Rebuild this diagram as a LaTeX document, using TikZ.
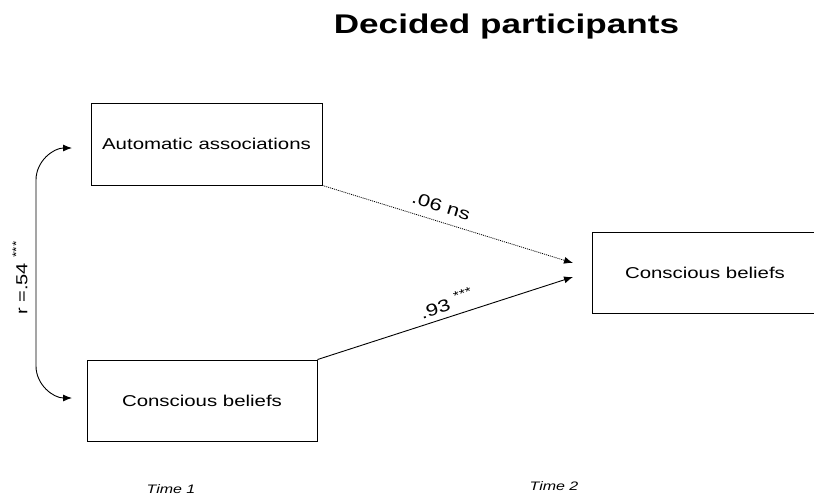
\documentclass[tikz,border=0pt]{standalone}
\usepackage{fontspec}
\setmainfont{Liberation Sans}
\usepackage{graphicx}
\usetikzlibrary{arrows.meta}
% horizontally widened text, as the whole figure is set
\newcommand{\wtext}[2][1.3]{\scalebox{#1}[1]{#2}}
\newcommand{\stars}{\raisebox{0.45em}{\fontsize{12}{12}\selectfont ***}}
\begin{document}
\begin{tikzpicture}[x=1pt,y=-1pt,
  box/.style={draw,line width=0.9pt,inner sep=0pt,
    font=\fontsize{15.7}{18}\selectfont},
  link/.style={line width=0.9pt,-{Latex[length=9pt,width=7pt]}},
  weight/.style={sloped,inner sep=1pt,font=\fontsize{17}{19}\selectfont},
  timelabel/.style={font=\fontsize{12.3}{14}\selectfont\itshape}]
\fill[white] (0,0) rectangle (814,501);
\useasboundingbox (0,0) rectangle (814,501);

% title
\node[font=\fontsize{27}{30}\selectfont\bfseries] (title) at (506.5,27)
  {\wtext{Decided participants}};

% measures at time 1 and time 2
\node[box,minimum width=231pt,minimum height=82pt] (auto) at (206.5,144)
  {\wtext{Automatic associations}};
\node[box,minimum width=230pt,minimum height=81pt] (cb1) at (202,400.5)
  {\wtext{Conscious beliefs}};
\node[box,minimum width=226pt,minimum height=81pt] (cb2) at (705,272.5)
  {\wtext{Conscious beliefs}};

% arrow heads stopping short of the time-2 box
\coordinate (tipA) at (573,263);
\coordinate (tipB) at (573,277);

% cross-lagged paths
\draw[link,dash pattern=on 1pt off 1pt,line width=0.8pt] (auto.south east) --
  node[weight,pos=0.456,above=8pt] {\wtext{.06 ns}} (tipA);
\draw[link] (cb1.north east) --
  node[weight,pos=0.52,above=4.5pt] {\wtext{.93 \stars}} (tipB);

% correlation at time 1
\coordinate (ca) at (72,148);
\coordinate (cb) at (72,398);
\draw[line width=0.9pt,{Latex[length=9pt,width=7pt]}-{Latex[length=9pt,width=7pt]}]
  (ca) to[out=180,in=90] (36,180) -- (36,366) to[out=-90,in=180] (cb);
\node[rotate=90,font=\fontsize{16}{18}\selectfont] (rlab) at (20,278)
  {\scalebox{1.25}[1]{r =.54 \raisebox{0.45em}{\fontsize{11}{11}\selectfont ***}}};

% time labels
\node[timelabel] (t1) at (171,489) {\wtext{Time 1}};
\node[timelabel] (t2) at (554,486) {\wtext{Time 2}};
\end{tikzpicture}
\end{document}
